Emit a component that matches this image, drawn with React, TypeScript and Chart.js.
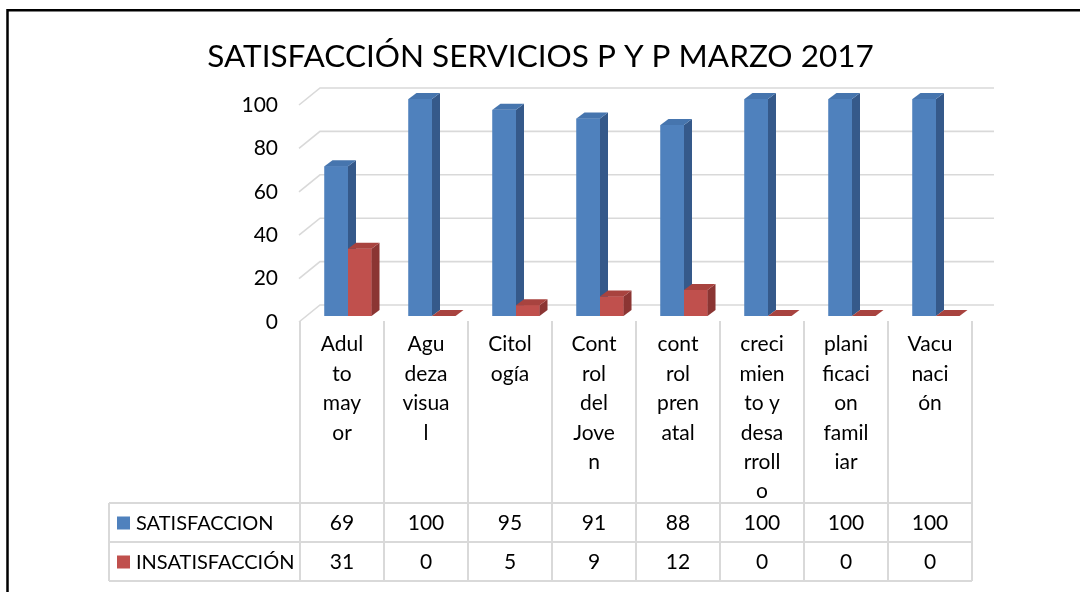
import React, { useEffect, useRef } from "react";
import { Chart, registerables } from "chart.js";

Chart.register(...registerables);

const TITLE = "SATISFACCIÓN SERVICIOS P Y P MARZO 2017";
const categories = [
  "Adulto mayor",
  "Agudeza visual",
  "Citología",
  "Control del Joven",
  "control prenatal",
  "crecimiento y desarrollo",
  "planificacion familiar",
  "Vacunación",
];
const categoryLabelLines = [
  ["Adul", "to", "may", "or"],
  ["Agu", "deza", "visua", "l"],
  ["Citol", "ogía"],
  ["Cont", "rol", "del", "Jove", "n"],
  ["cont", "rol", "pren", "atal"],
  ["creci", "mien", "to y", "desa", "rroll", "o"],
  ["plani", "ficaci", "on", "famil", "iar"],
  ["Vacu", "naci", "ón"],
];
const seriesNames = ["SATISFACCION", "INSATISFACCIÓN"];
const satisfaccion = [69, 100, 95, 91, 88, 100, 100, 100];
const insatisfaccion = [31, 0, 5, 9, 12, 0, 0, 0];
const yTicks = [0, 20, 40, 60, 80, 100];

const FONT = "Lato, 'Open Sans', sans-serif";
const SHIFT = 6;
const DX = 8;
const DY = 6;
const FRONT = ["#4F81BD", "#C0504D"];
const SIDE = ["#35598A", "#8B3533"];
const TOP = ["#4675AE", "#A8433F"];
const GRID = "#d9d9d9";

const decorPlugin = {
  id: "decor",
  beforeDraw(chart: any) {
    const ctx = chart.ctx;
    ctx.save();
    ctx.fillStyle = "#fff";
    ctx.fillRect(0, 0, chart.width, chart.height);
    ctx.strokeStyle = "#000";
    ctx.lineWidth = 2.5;
    ctx.beginPath();
    ctx.moveTo(7.5, chart.height);
    ctx.lineTo(7.5, 10.3);
    ctx.lineTo(chart.width, 10.3);
    ctx.stroke();
    ctx.fillStyle = "#000";
    ctx.font = `31.5px ${FONT}`;
    ctx.textAlign = "center";
    ctx.textBaseline = "alphabetic";
    ctx.fillText(TITLE, 540.5, 66.5);
    ctx.restore();
  },
  beforeDatasetsDraw(chart: any) {
    const { ctx, chartArea, scales } = chart;
    const y = scales.y;
    const L = chartArea.left - SHIFT;
    const R = chartArea.right - SHIFT;
    ctx.save();
    ctx.strokeStyle = GRID;
    ctx.lineWidth = 1.6;
    for (const v of yTicks) {
      const yb = y.getPixelForValue(v) - 11;
      ctx.beginPath();
      ctx.moveTo(L - 1, yb + 17);
      ctx.lineTo(L + 20, yb);
      ctx.lineTo(R + 22, yb);
      ctx.stroke();
    }
    ctx.restore();
  },
  afterDatasetsDraw(chart: any) {
    const { ctx } = chart;
    ctx.save();
    chart.data.datasets.forEach((_ds: any, idx: number) => {
      const meta = chart.getDatasetMeta(idx);
      for (const el of meta.data) {
        const p = el.getProps(["x", "y", "base", "width"], true);
        const l = p.x - p.width / 2;
        const r = p.x + p.width / 2;
        const t = Math.min(p.y, p.base);
        const b = Math.max(p.y, p.base);
        // front face
        ctx.fillStyle = FRONT[idx];
        ctx.fillRect(l, t, r - l, b - t);
        // side face
        ctx.fillStyle = SIDE[idx];
        ctx.beginPath();
        ctx.moveTo(r, t);
        ctx.lineTo(r + DX, t - DY);
        ctx.lineTo(r + DX, b - DY);
        ctx.lineTo(r, b);
        ctx.closePath();
        ctx.fill();
        // top face
        ctx.fillStyle = TOP[idx];
        ctx.beginPath();
        ctx.moveTo(l, t);
        ctx.lineTo(l + DX, t - DY);
        ctx.lineTo(r + DX, t - DY);
        ctx.lineTo(r, t);
        ctx.closePath();
        ctx.fill();
      }
    });
    ctx.restore();
  },
  afterDraw(chart: any) {
    const { ctx, chartArea, scales } = chart;
    const y = scales.y;
    const n = categories.length;
    const cw = (chartArea.right - chartArea.left) / n;
    const L = chartArea.left - SHIFT;
    const edge = (i: number) => L + i * cw;
    const headTop = y.getPixelForValue(0) + 5;
    const rowTops = [503, 542, 581];
    const tableLeft = 109;
    ctx.save();
    ctx.strokeStyle = GRID;
    ctx.lineWidth = 2;
    ctx.beginPath();
    for (let i = 0; i <= n; i++) {
      ctx.moveTo(edge(i), headTop);
      ctx.lineTo(edge(i), rowTops[2]);
    }
    ctx.moveTo(tableLeft, rowTops[0]);
    ctx.lineTo(tableLeft, rowTops[2]);
    for (const ry of rowTops) {
      ctx.moveTo(tableLeft, ry);
      ctx.lineTo(edge(n), ry);
    }
    ctx.stroke();

    const rows = [satisfaccion, insatisfaccion];
    ctx.fillStyle = "#000";
    ctx.textBaseline = "middle";
    for (let r = 0; r < rows.length; r++) {
      const mid = (rowTops[r] + rowTops[r + 1]) / 2 + 1;
      ctx.font = `21px ${FONT}`;
      ctx.textAlign = "center";
      for (let i = 0; i < n; i++) {
        ctx.fillText(String(rows[r][i]), edge(i) + cw / 2, mid);
      }
      ctx.fillStyle = FRONT[r];
      ctx.fillRect(117, mid - 7, 13, 13);
      ctx.fillStyle = "#000";
      ctx.textAlign = "left";
      ctx.font = `20px ${FONT}`;
      ctx.fillText(seriesNames[r], 136, mid);
    }
    ctx.restore();
  },
};

export default function App() {
  const ref = useRef<HTMLCanvasElement | null>(null);
  useEffect(() => {
    if (!ref.current) return;
    const chart = new Chart(ref.current, {
      type: "bar",
      data: {
        labels: categoryLabelLines,
        datasets: [
          {
            label: seriesNames[0],
            data: satisfaccion,
            backgroundColor: FRONT[0],
            borderWidth: 0,
            categoryPercentage: 0.56,
            barPercentage: 1,
          },
          {
            label: seriesNames[1],
            data: insatisfaccion,
            backgroundColor: FRONT[1],
            borderWidth: 0,
            categoryPercentage: 0.56,
            barPercentage: 1,
          },
        ],
      },
      options: {
        responsive: false,
        animation: false,
        devicePixelRatio: 1,
        layout: { padding: { top: 99, left: 0, right: 102, bottom: 0 } },
        plugins: {
          legend: { display: false },
          tooltip: { enabled: false },
          title: { display: false },
        },
        scales: {
          x: {
            grid: { display: false, drawTicks: false },
            border: { display: false },
            ticks: {
              color: "#000",
              font: { family: FONT, size: 21, lineHeight: 1.4 },
              padding: 14,
              labelOffset: -SHIFT,
              maxRotation: 0,
              minRotation: 0,
              autoSkip: false,
            },
            afterFit: (s: any) => {
              s.height = 592 - 316;
            },
          },
          y: {
            min: 0,
            max: 100,
            grid: { display: false, drawTicks: false },
            border: { display: false },
            ticks: {
              stepSize: 20,
              color: "#000",
              font: { family: FONT, size: 21 },
              padding: 28,
              labelOffset: 6,
            },
            afterFit: (s: any) => {
              s.width = 306;
            },
          },
        },
      },
      plugins: [decorPlugin],
    } as any);
    return () => chart.destroy();
  }, []);
  return (
    <div style={{ position: "fixed", left: 0, top: 0, width: 1080, height: 592, background: "#fff" }}>
      <canvas ref={ref} width={1080} height={592} style={{ display: "block" }} />
    </div>
  );
}
